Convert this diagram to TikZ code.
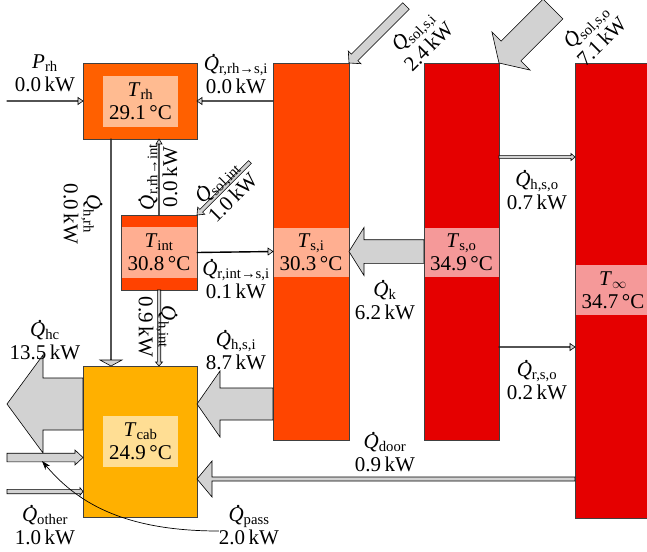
\documentclass[tikz,border=0pt]{standalone}
\usepackage{fontspec}
\setmainfont{Liberation Serif}
\usetikzlibrary{calc,arrows.meta}
\definecolor{crh}{RGB}{255,96,0}
\definecolor{csi}{RGB}{255,69,0}
\definecolor{cint}{RGB}{255,66,0}
\definecolor{cso}{RGB}{229,0,0}
\definecolor{cinf}{RGB}{229,0,0}
\definecolor{ccab}{RGB}{255,176,0}
\definecolor{skgray}{RGB}{210,210,210}
\newcommand\Qd{\textit{\rlap{\hspace{0.36em}\raisebox{0.64em}{.}}Q}}
\newcommand\Ql[2]{\Qd\textsubscript{#1}\\#2\,kW}
\newcommand\Tl[2]{\textit{T}\textsubscript{#1}\\#2\,°C}
% sankey arrow: start, tip, half shaft, half head, head length
\newcommand\sk[5]{%
  \path ($(#2)!#5pt!(#1)$) coordinate (hb);
  \draw[skarrow] ($(#1)!#3pt!90:(#2)$) -- ($(hb)!#3pt!90:(#2)$) -- ($(hb)!#4pt!90:(#2)$) -- (#2)
    -- ($(hb)!#4pt!-90:(#2)$) -- ($(hb)!#3pt!-90:(#2)$) -- ($(#1)!#3pt!-90:(#2)$) -- cycle;}
\tikzset{
  blk/.style={draw=black!75, line width=0.8pt, inner sep=0pt, outer sep=0pt},
  band/.style={inner sep=0pt, outer sep=0pt, align=center},
  skarrow/.style={draw=black, fill=skgray, line width=0.6pt, line join=miter},
  lbl/.style={inner sep=0pt, align=center},
  every node/.style={font=\fontsize{21}{23}\selectfont},
}
\begin{document}
\begin{tikzpicture}[x=1pt,y=-1pt]
\useasboundingbox (0,0) rectangle (647,551);
% bodies
\node[blk, fill=crh, minimum width=114, minimum height=76] (rh) at (140,101) {};
\node[band, fill=crh!43!white, minimum width=75, minimum height=51] (rhT) at (140.5,101.5) {\Tl{rh}{29.1}};
\node[blk, fill=csi, minimum width=76, minimum height=377] (si) at (311,251.5) {};
\node[band, fill=csi!43!white, minimum width=75, minimum height=49] (siT) at (311,252.5) {\Tl{s,i}{30.3}};
\node[blk, fill=cso, minimum width=75, minimum height=377] (so) at (461.5,251.5) {};
\node[band, fill=cso!40!white, minimum width=74, minimum height=49] (soT) at (461.5,252.5) {\Tl{s,o}{34.9}};
\node[blk, fill=cinf, minimum width=76, minimum height=455] (inf) at (613,290.5) {};
\node[band, fill=cinf!40!white, minimum width=75, minimum height=50] (infT) at (613,290) {\Tl{$\infty$}{34.7}};
\node[blk, fill=cint, minimum width=76, minimum height=75] (int) at (159,252.5) {};
\node[band, fill=cint!43!white, minimum width=75, minimum height=51] (intT) at (159,252.5) {\Tl{int}{30.8}};
\node[blk, fill=ccab, minimum width=114, minimum height=151] (cab) at (140,441.5) {};
\node[band, fill=ccab!42!white, minimum width=75, minimum height=51] (cabT) at (140.5,441.5) {\Tl{cab}{24.9}};
% level coordinates
\coordinate (Y101) at (0,101);
\coordinate (Y157) at (0,157);
\coordinate (Y347) at (0,347);
\coordinate (Y404) at (0,404);
\coordinate (Y457) at (0,457.5);
\coordinate (Y479) at (0,479);
\coordinate (Y491) at (0,491.5);
\coordinate (X7) at (7,0);
\coordinate (X111) at (111,0);
% arrow end points
\coordinate (prhS) at (X7 |- Y101);
\coordinate (rrhsiS) at (si.west |- Y101);
\coordinate (rrhsiT) at (rh.east |- Y101);
\coordinate (hrhS) at (X111 |- rh.south);
\coordinate (hrhT) at (X111 |- cab.north);
\coordinate (rrhintT) at (int.north |- rh.south);
\coordinate (solintS) at ($(int.north east)+(53,-53)$);
\coordinate (hintT) at (int.south |- cab.north);
\coordinate (hsiS) at (si.west |- Y404);
\coordinate (hsiT) at (cab.east |- Y404);
\coordinate (hcS) at (cab.west |- Y404);
\coordinate (hcT) at (X7 |- Y404);
\coordinate (passS) at (X7 |- Y457);
\coordinate (passT) at (cab.west |- Y457);
\coordinate (otherS) at (X7 |- Y491);
\coordinate (otherT) at (cab.west |- Y491);
\coordinate (doorS) at (inf.west |- Y479);
\coordinate (doorT) at (cab.east |- Y479);
\coordinate (hsoS) at (so.east |- Y157);
\coordinate (hsoT) at (inf.west |- Y157);
\coordinate (rsoS) at (so.east |- Y347);
\coordinate (rsoT) at (inf.west |- Y347);
\coordinate (solsiS) at ($(si.north east)+(57,-57)$);
\coordinate (solsoS) at ($(so.north east)+(54,-54)$);
% arrows
\sk{prhS}{rh.west}{0.4}{3.5}{5}
\sk{rrhsiS}{rrhsiT}{0.4}{3.5}{5}
\sk{hrhS}{hrhT}{0.4}{11}{6}
\sk{int.north}{rrhintT}{0.4}{3}{5}
\sk{solintS}{int.north east}{1.9}{5}{6}
\sk{int.south}{hintT}{1.7}{3.5}{4}
\sk{int.east}{si.west}{0.4}{3.5}{5}
\sk{hsiS}{hsiT}{16}{33}{23}
\sk{hcS}{hcT}{26}{49}{36}
\sk{passS}{passT}{4.3}{7.5}{8}
\sk{otherS}{otherT}{2.2}{3.8}{3}
\sk{doorS}{doorT}{2}{18}{15}
\sk{so.west}{si.east}{11.8}{24}{15}
\sk{hsoS}{hsoT}{1.4}{3.5}{4}
\sk{rsoS}{rsoT}{0.4}{3.5}{5}
\sk{solsiS}{si.north east}{4.6}{9}{8}
\sk{solsoS}{so.north east}{14}{27}{17}
% labels
\node[lbl] (prhL) at (45,73) {\textit{P}\textsubscript{rh}\\0.0\,kW};
\node[lbl] (rrhsiL) at (236,74) {\Ql{r,rh→s,i}{0.0}};
\node[lbl, rotate=-90] (hrhL) at (83,214) {\Ql{h,rh}{0.0}};
\node[lbl, rotate=90] (rrhintL) at (158,177) {\Ql{r,rh→int}{0.0}};
\node[lbl, rotate=45] (solintL) at (224,189) {\Ql{sol,int}{1.0}};
\node[lbl] (rintsiL) at (236,279) {\Ql{r,int→s,i}{0.1}};
\node[lbl, rotate=-90] (hintL) at (158,327) {\Ql{h,int}{0.9}};
\node[lbl] (hsiL) at (236,350) {\Ql{h,s,i}{8.7}};
\node[lbl] (hcL) at (45,340) {\Ql{hc}{13.5}};
\node[lbl] (kL) at (385,300) {\Ql{k}{6.2}};
\node[lbl] (hsoL) at (537,190) {\Ql{h,s,o}{0.7}};
\node[lbl] (rsoL) at (537,380) {\Ql{r,s,o}{0.2}};
\node[lbl] (doorL) at (385,452) {\Ql{door}{0.9}};
\node[lbl, rotate=45] (solsiL) at (420,38) {\Ql{sol,s,i}{2.4}};
\node[lbl, rotate=45] (solsoL) at (593,33) {\Ql{sol,s,o}{7.1}};
\node[lbl] (otherL) at (45,525) {\Ql{other}{1.0}};
\node[lbl] (passL) at (249,525) {\Ql{pass}{2.0}};
% pointer from Q_pass label
\coordinate (passP) at (42,461);
\draw[line width=0.7pt, -{Stealth[length=9pt,width=6pt]}] (passL.west |- 0,531) .. controls (120,531) and (75,500) .. (passP);
\end{tikzpicture}
\end{document}
